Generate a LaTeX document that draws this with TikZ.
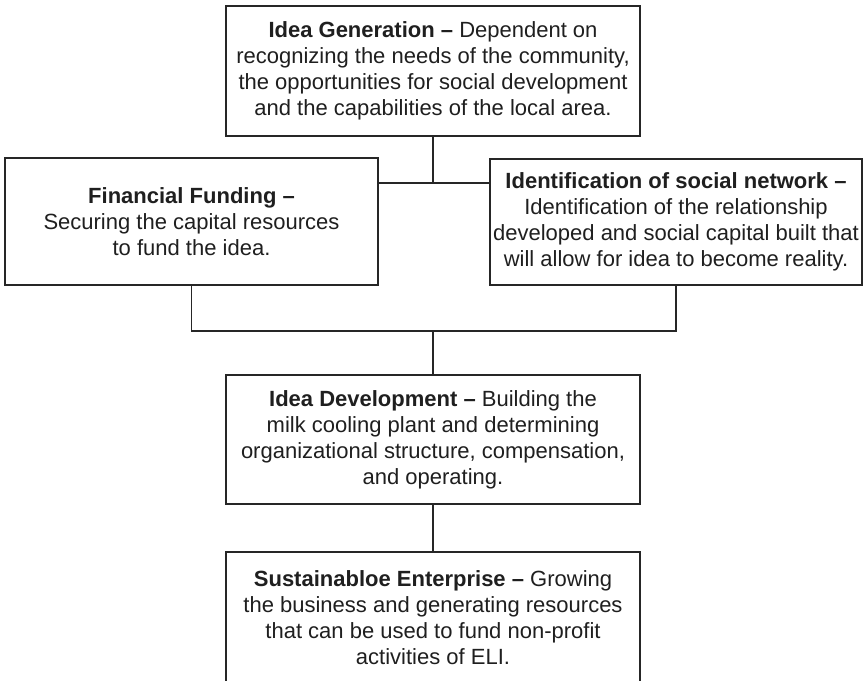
\documentclass[tikz,border=0pt]{standalone}
\usepackage{fontspec}
\setmainfont{Liberation Sans}
\begin{document}
\begin{tikzpicture}[x=1pt,y=1pt,
  stagebox/.style={draw=black!85, line width=1.8pt, fill=white,
    minimum width=#1, inner sep=0pt, align=center, text=black!88,
    font=\fontsize{22}{26}\selectfont},
  link/.style={draw=black!85, line width=1.2pt}]
  % page frame (the last box runs off the lower edge)
  \useasboundingbox (0,0) rectangle (864,680);
  \clip (0,0) rectangle (864,680);

  \node[stagebox=414pt, minimum height=130pt] (gen) at (433,609)
    {\textbf{Idea Generation –} Dependent on\\
     recognizing the needs of the community,\\
     the opportunities for social development\\
     and the capabilities of the local area.};

  \node[stagebox=373pt, minimum height=127pt] (fin) at (191.5,458.5)
    {\textbf{Financial Funding –}\\
     Securing the capital resources\\
     to fund the idea.};

  \node[stagebox=372pt, minimum height=126pt] (soc) at (676,458)
    {\textbf{Identification of social network –}\\
     Identification of the relationship\\
     developed and social capital built that\\
     will allow for idea to become reality.};

  \node[stagebox=414pt, minimum height=129pt] (dev) at (433,240.5)
    {\textbf{Idea Development –} Building the\\
     milk cooling plant and determining\\
     organizational structure, compensation,\\
     and operating.};

  \node[stagebox=414pt, minimum height=131pt] (sus) at (433,62.5)
    {\textbf{Sustainabloe Enterprise –} Growing\\
     the business and generating resources\\
     that can be used to fund non-profit\\
     activities of ELI.};

  % junctions of the tree lines
  \coordinate (j1) at (433,497);
  \coordinate (j2) at (433,349);

  \draw[link] (gen.south) -- (j1);
  \draw[link] (fin.east |- j1) -- (soc.west |- j1);
  \draw[link] (fin.south) -- (fin.south |- j2) -- (soc.south |- j2) -- (soc.south);
  \draw[link] (j2) -- (dev.north);
  \draw[link] (dev.south) -- (sus.north);
\end{tikzpicture}
\end{document}
